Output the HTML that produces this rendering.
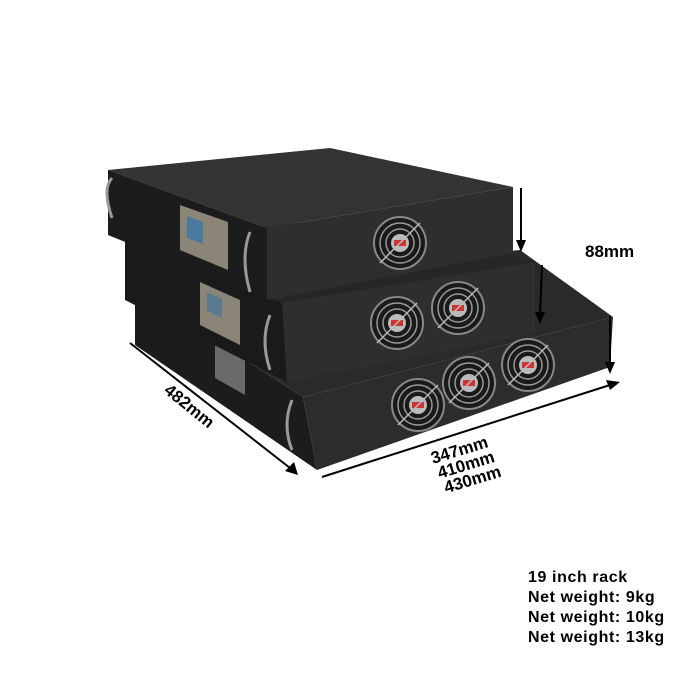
<!DOCTYPE html>
<html><head><meta charset="utf-8"><style>
html,body{margin:0;padding:0;background:#fff;width:700px;height:700px;overflow:hidden}
svg text{font-family:"Liberation Sans",Arial,sans-serif;font-weight:bold;fill:#000}
</style></head><body>
<svg width="700" height="700" viewBox="0 0 700 700" xmlns="http://www.w3.org/2000/svg">
<defs>
<g id="fan">
 <circle r="26" fill="#1a1a1a" stroke="#888" stroke-width="2"/>
 <circle r="20" fill="none" stroke="#999" stroke-width="1.5"/>
 <circle r="14" fill="none" stroke="#999" stroke-width="1.5"/>
 <circle r="9" fill="#bbb"/>
 <rect x="-6" y="-3" width="12" height="6" fill="#c33"/>
 <line x1="-20" y1="20" x2="20" y2="-20" stroke="#bbb" stroke-width="1.5"/>
</g>
</defs>
<!-- bottom unit -->
<polygon points="135,290 520,250 613,317 303,397" fill="#2a2a2a"/>
<polygon points="135,290 303,397 317,470 135,345" fill="#1c1c1c"/>
<polygon points="303,397 613,317 610,367 317,470" fill="#2c2c2c"/>
<polygon points="215,335 245,352 245,395 215,378" fill="#6a6a6a"/>
<use href="#fan" x="418" y="405"/>
<use href="#fan" x="469" y="383"/>
<use href="#fan" x="528" y="365"/>
<!-- middle unit -->
<polygon points="125,240 380,215 535,262 282,303" fill="#262626"/>
<polygon points="125,240 282,303 287,382 125,300" fill="#1a1a1a"/>
<polygon points="282,303 535,262 535,333 287,382" fill="#2e2e2e"/>
<polygon points="200,282 240,300 240,345 200,325" fill="#8a8577"/>
<polygon points="207,292 222,299 222,318 207,311" fill="#5a7a90"/>
<use href="#fan" x="397" y="323"/>
<use href="#fan" x="458" y="308"/>
<!-- top unit -->
<polygon points="108,170 330,148 513,187 267,228" fill="#333"/>
<polygon points="108,170 267,228 267,300 108,235" fill="#1c1c1c"/>
<polygon points="267,228 513,187 513,253 267,300" fill="#2e2e2e"/>
<polygon points="180,205 228,222 228,270 180,250" fill="#8a8577"/>
<polygon points="187,216 203,222 203,244 187,238" fill="#4a7aa0"/>
<use href="#fan" x="400" y="243"/>
<!-- handles -->
<path d="M112,178 q-10,10 0,40" stroke="#999" stroke-width="3" fill="none"/>
<path d="M250,232 q-10,25 0,60" stroke="#999" stroke-width="3" fill="none"/>
<path d="M270,315 q-10,25 0,55" stroke="#999" stroke-width="3" fill="none"/>
<path d="M292,400 q-10,25 0,50" stroke="#999" stroke-width="3" fill="none"/>
<!-- arrows -->
<g stroke="#000" stroke-width="2" fill="#000">
<line x1="521" y1="188" x2="521" y2="242"/><polygon points="516,240 526,240 521,252" stroke="none"/>
<line x1="542" y1="265" x2="540" y2="314"/><polygon points="535,312 545,312 540,324" stroke="none"/>
<line x1="610" y1="316" x2="610" y2="364"/><polygon points="605,362 615,362 610,374" stroke="none"/>
<line x1="130" y1="343" x2="290" y2="468"/><polygon points="285,471 294,462 298,475" stroke="none"/>
<line x1="322" y1="477" x2="610" y2="385"/><polygon points="606,380 610,390 620,382" stroke="none"/>
</g>
<text x="585" y="257" font-size="17">88mm</text>
<text x="0" y="0" font-size="17" transform="translate(163,392) rotate(39)">482mm</text>
<g transform="translate(433,464) rotate(-17)" font-size="17">
<text x="0" y="0">347mm</text>
<text x="2" y="16">410mm</text>
<text x="4" y="32">430mm</text>
</g>
<g font-size="16" style="letter-spacing:0.6px">
<text x="528" y="582">19 inch rack</text>
<text x="528" y="602">Net weight: 9kg</text>
<text x="528" y="622">Net weight: 10kg</text>
<text x="528" y="642">Net weight: 13kg</text>
</g>
</svg>
</body></html>
